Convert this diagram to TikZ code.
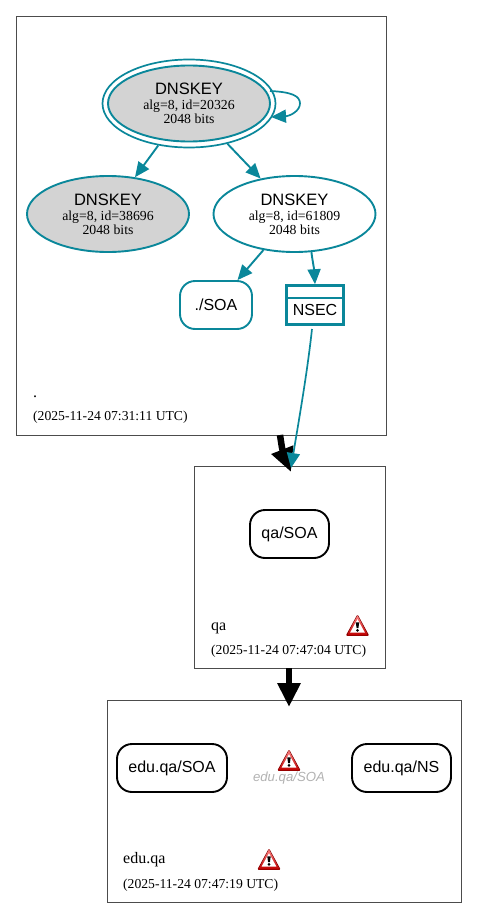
\documentclass[tikz,border=0pt]{standalone}
\usepackage{fontspec}
\setmainfont{Liberation Serif}
\newfontfamily\hv{Liberation Sans}
\usetikzlibrary{arrows.meta,shapes.geometric,calc}
\definecolor{dteal}{HTML}{0A879A}
\definecolor{keygray}{HTML}{D3D3D3}
\newcommand{\keylabel}[1]{{\hv\fontsize{16.5}{14}\selectfont DNSKEY}\\[1pt]alg=8, id=#1\\2048 bits}
\tikzset{
  x=1pt,y=-1pt,
  zone/.style={draw=black!70,line width=0.8pt,rectangle,inner sep=0pt,anchor=north west},
  keynode/.style={ellipse,draw=dteal,line width=1.9pt,inner sep=0pt,minimum width=162pt,minimum height=76pt,align=center,font=\fontsize{13.8}{14}\selectfont},
  rrnode/.style={rectangle,rounded corners=15pt,line width=1.9pt,inner sep=0pt,minimum height=48pt,font=\hv\fontsize{16}{18}\selectfont},
  tealrr/.style={rrnode,draw=dteal},
  blackrr/.style={rrnode,draw=black},
  tealarrow/.style={draw=dteal,line width=1.9pt,-{Triangle[length=15pt,width=13pt,fill=dteal]}},
  thinarrow/.style={draw=dteal,line width=1.7pt,-{Triangle[length=15pt,width=13pt,fill=dteal]}},
  delegation/.style={draw=black,line width=6.5pt,-{Triangle[length=24pt,width=22pt,fill=black]}},
  zonelabel/.style={anchor=base west,inner sep=0pt,font=\fontsize{16}{18}\selectfont},
  zonetime/.style={anchor=base west,inner sep=0pt,font=\fontsize{13.65}{15}\selectfont},
  warn/.pic={
    \fill[red!60!black,rounded corners=1.2pt] (-11.8,10.8) -- (0,-10.8) -- (11.8,10.8) -- cycle;
    \fill[top color=red!50!white,bottom color=red!75!black,rounded corners=1pt] (-10.6,9.8) -- (0,-9.8) -- (10.6,9.8) -- cycle;
    \fill[white] (-7.4,7.6) -- (0,-5.8) -- (7.4,7.6) -- cycle;
    \fill[black] (-1.7,-2.6) -- (1.7,-2.6) -- (0.9,3.2) -- (-0.9,3.2) -- cycle;
    \fill[black] (0,5.4) circle (1.5pt);
  }
}
\begin{document}
\begin{tikzpicture}
\useasboundingbox (0,0) rectangle (477,918);
% zones
\node[zone,minimum width=370pt,minimum height=419pt] (zroot) at (16,16) {};
\node[zone,minimum width=191pt,minimum height=202pt] (zqa) at (194,466) {};
\node[zone,minimum width=354pt,minimum height=202pt] (zedu) at (107,700) {};
% keys
\node[ellipse,draw=dteal,line width=1.7pt,minimum width=173pt,minimum height=88pt,inner sep=0pt] (kouter) at (189,103.5) {};
\node[keynode,fill=keygray] (k20326) at (189,103.5) {\keylabel{20326}};
\node[keynode,fill=keygray] (k38696) at (108,214) {\keylabel{38696}};
\node[keynode] (k61809) at (294.5,214) {\keylabel{61809}};
% rrsets
\node[tealrr,minimum width=72pt] (rootsoa) at (216,305) {./SOA};
\node[draw=dteal,line width=2.6pt,rectangle,minimum width=57pt,minimum height=39pt,inner sep=0pt] (nsec) at (315,305) {};
\node[inner sep=0pt,font=\hv\fontsize{16}{18}\selectfont] (nsectext) at (315,310) {NSEC};
\coordinate (nsecl) at (286,298);
\coordinate (nsecr) at (344,298);
\draw[dteal,line width=2.4pt] (nsecl) -- (nsecr);
\node[blackrr,minimum width=79pt] (qasoa) at (289.5,534) {qa/SOA};
\node[blackrr,minimum width=110pt] (edusoa) at (172,768) {edu.qa/SOA};
\node[blackrr,minimum width=99pt] (eduns) at (401.5,768) {edu.qa/NS};
\node[inner sep=0pt,text=black!30,font=\hv\itshape\fontsize{13.2}{15}\selectfont] (edusoaerr) at (289,778) {edu.qa/SOA};
% zone labels
\node[zonelabel] (lroot) at (33,397) {.};
\node[zonetime] (troot) at (33,420) {(2025-11-24 07:31:11 UTC)};
\node[zonelabel] (lqa) at (211,630) {qa};
\node[zonetime] (tqa) at (211,654) {(2025-11-24 07:47:04 UTC)};
\node[zonelabel] (ledu) at (123,863) {edu.qa};
\node[zonetime] (tedu) at (123,888) {(2025-11-24 07:47:19 UTC)};
% warnings
\pic at (357.5,625) {warn};
\pic at (289,760) {warn};
\pic at (269,859) {warn};
% connectors
\draw[tealarrow] (kouter) -- (k38696);
\draw[tealarrow] (kouter) -- (k61809);
\draw[tealarrow] (k61809) -- (rootsoa);
\draw[tealarrow] (k61809.-66) .. controls (312,258) and (314,268) .. (nsec.north);
\coordinate (loopa) at (270,91);
\coordinate (loopb) at (271,117);
\draw[thinarrow] (loopa) .. controls (292,92) and (300,96) .. (300,103.5) .. controls (300,111) and (290,116) .. (loopb);
\coordinate (nsectail) at (312,329);
\coordinate (nsectip) at (291,468);
\coordinate (d1a) at (280,435);
\coordinate (d1b) at (291,472);
\draw[delegation] (d1a) .. controls (281,441) and (282,449) .. (d1b);
\draw[thinarrow] (nsectail) .. controls (307,375) and (298,425) .. (nsectip);
\coordinate (d2a) at (289,668);
\coordinate (d2b) at (289,707);
\draw[delegation] (d2a) -- (d2b);
\end{tikzpicture}
\end{document}
